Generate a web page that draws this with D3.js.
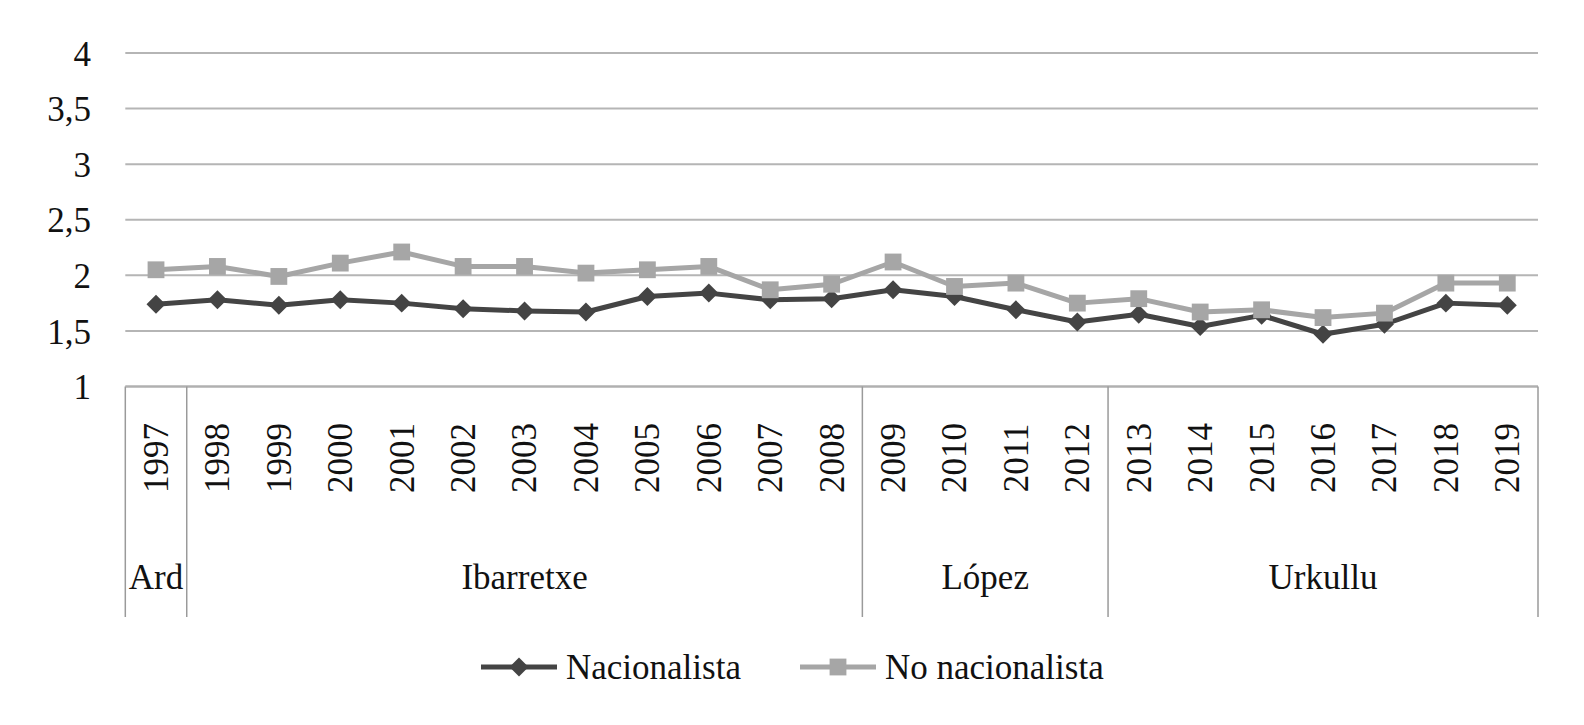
<!DOCTYPE html>
<html>
<head>
<meta charset="utf-8">
<script src="https://cdn.jsdelivr.net/npm/d3@7"></script>
<style>
  body { margin: 0; background: #fff; }
</style>
</head>
<body>
<div id="chart"></div>
<script>
// Data
var years = ["1997","1998","1999","2000","2001","2002","2003","2004","2005","2006","2007","2008",
             "2009","2010","2011","2012","2013","2014","2015","2016","2017","2018","2019"];
var nacionalista = [1.74,1.78,1.73,1.78,1.75,1.70,1.68,1.67,1.81,1.84,1.78,1.79,
                    1.87,1.81,1.69,1.58,1.65,1.54,1.64,1.47,1.56,1.75,1.73];
var noNacionalista = [2.05,2.08,1.99,2.11,2.21,2.08,2.08,2.02,2.05,2.08,1.87,1.92,
                      2.12,1.90,1.93,1.75,1.79,1.67,1.69,1.62,1.66,1.93,1.93];
var yTicks = [1, 1.5, 2, 2.5, 3, 3.5, 4];
// leader periods: name, first year, last year
var leaders = [
  { name: "Ard", from: "1997", to: "1997" },
  { name: "Ibarretxe", from: "1998", to: "2008" },
  { name: "López", from: "2009", to: "2012" },
  { name: "Urkullu", from: "2013", to: "2019" }
];

var width = 1584, height = 725;
var serif = "'Liberation Serif', 'DejaVu Serif', 'Times New Roman', serif";

var svg = d3.select("#chart")
  .append("svg")
  .attr("width", width)
  .attr("height", height)
  .attr("font-family", serif)
  .attr("font-size", 35);

// Scales
var x = d3.scaleBand()
  .domain(years)
  .range([125.3, 1538]);

var y = d3.scaleLinear()
  .domain([1, 4])
  .range([386.5, 53]);

var fmt = function(d) { return String(d).replace(".", ","); };

// Gridlines
svg.append("g")
  .selectAll("line")
  .data(yTicks.filter(function(d) { return d > 1; }))
  .enter()
  .append("line")
  .attr("x1", x.range()[0])
  .attr("x2", x.range()[1])
  .attr("y1", function(d) { return y(d); })
  .attr("y2", function(d) { return y(d); })
  .attr("stroke", "#b5b5b5")
  .attr("stroke-width", 2);

// Y tick labels
svg.append("g")
  .selectAll("text")
  .data(yTicks)
  .enter()
  .append("text")
  .attr("x", 91)
  .attr("y", function(d) { return y(d); })
  .attr("dy", "0.36em")
  .attr("text-anchor", "end")
  .attr("fill", "#111")
  .style("font-family", serif)
  .text(fmt);

// Category axis line (top of the label table)
svg.append("line")
  .attr("x1", x.range()[0])
  .attr("x2", x.range()[1])
  .attr("y1", y(1))
  .attr("y2", y(1))
  .attr("stroke", "#b0b0b0")
  .attr("stroke-width", 2.5);

// Vertical dividers between leader periods
var bounds = [x.range()[0]].concat(leaders.map(function(l) { return x(l.to) + x.bandwidth(); }));
svg.append("g")
  .selectAll("line")
  .data(bounds)
  .enter()
  .append("line")
  .attr("x1", function(d) { return d; })
  .attr("x2", function(d) { return d; })
  .attr("y1", y(1))
  .attr("y2", 617)
  .attr("stroke", "#9a9a9a")
  .attr("stroke-width", 1.5);

// Year labels (rotated)
svg.append("g")
  .selectAll("text")
  .data(years)
  .enter()
  .append("text")
  .attr("transform", function(d) {
    return "translate(" + (x(d) + x.bandwidth() / 2) + ",458) rotate(-90)";
  })
  .attr("text-anchor", "middle")
  .attr("dy", "0.34em")
  .attr("fill", "#111")
  .style("font-family", serif)
  .text(function(d) { return d; });

// Leader names
svg.append("g")
  .selectAll("text")
  .data(leaders)
  .enter()
  .append("text")
  .attr("x", function(d) { return (x(d.from) + x(d.to) + x.bandwidth()) / 2; })
  .attr("y", 589)
  .attr("text-anchor", "middle")
  .attr("fill", "#111")
  .style("font-family", serif)
  .text(function(d) { return d.name; });

// Lines and markers
var line = d3.line()
  .x(function(d, i) { return x(years[i]) + x.bandwidth() / 2; })
  .y(function(d) { return y(d); });

var series = [
  { name: "Nacionalista", values: nacionalista, color: "#444444", width: 5, symbol: d3.symbolDiamond2, size: 230 },
  { name: "No nacionalista", values: noNacionalista, color: "#a6a6a6", width: 5, symbol: d3.symbolSquare2, size: 360 }
];

series.forEach(function(s) {
  svg.append("path")
    .datum(s.values)
    .attr("d", line)
    .attr("fill", "none")
    .attr("stroke", s.color)
    .attr("stroke-width", s.width)
    .attr("stroke-linejoin", "round");

  svg.append("g")
    .selectAll("path")
    .data(s.values)
    .enter()
    .append("path")
    .attr("transform", function(d, i) {
      return "translate(" + (x(years[i]) + x.bandwidth() / 2) + "," + y(d) + ")";
    })
    .attr("d", d3.symbol().type(s.symbol).size(s.size))
    .attr("fill", s.color);
});

// Legend
var legendPos = [481, 800];
var legend = svg.append("g")
  .selectAll("g")
  .data(series)
  .enter()
  .append("g")
  .attr("transform", function(d, i) { return "translate(" + legendPos[i] + ",667)"; });

legend.append("line")
  .attr("x1", 0)
  .attr("x2", 76)
  .attr("stroke", function(d) { return d.color; })
  .attr("stroke-width", 5);

legend.append("path")
  .attr("transform", "translate(38,0)")
  .attr("d", function(d) { return d3.symbol().type(d.symbol).size(d.size)(); })
  .attr("fill", function(d) { return d.color; });

legend.append("text")
  .attr("x", 85)
  .attr("dy", "0.33em")
  .attr("fill", "#111")
  .style("font-family", serif)
  .text(function(d) { return d.name; });
</script>
</body>
</html>
